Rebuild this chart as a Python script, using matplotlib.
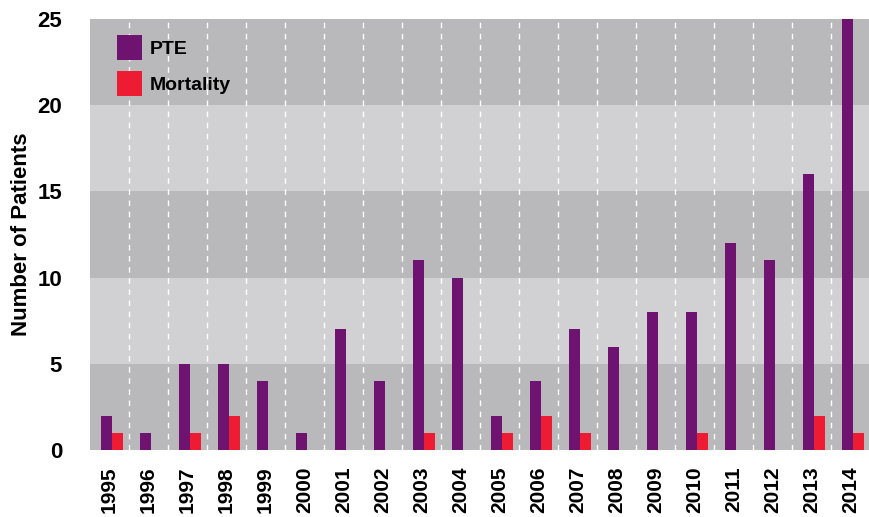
import matplotlib
matplotlib.use("Agg")
import matplotlib.pyplot as plt
import numpy as np

years = [str(y) for y in range(1995, 2015)]
pte = [2, 1, 5, 5, 4, 1, 7, 4, 11, 10, 2, 4, 7, 6, 8, 8, 12, 11, 16, 25]
mortality = [1, 0, 1, 2, 0, 0, 0, 0, 1, 0, 1, 2, 1, 0, 0, 1, 0, 0, 2, 1]

purple = "#6E1470"
red = "#EE1C33"
dark_band = "#B9B9BB"
light_band = "#D1D1D3"

plt.rcParams['font.family'] = ['Liberation Sans', 'DejaVu Sans']

fig = plt.figure(figsize=(8.7, 5.17), dpi=100)
ax = fig.add_axes([0.1034, 0.1296, 0.8966, 0.8337])

x = np.arange(len(years))

# alternating grey bands
for i, lo in enumerate(range(0, 25, 5)):
    ax.axhspan(lo, lo + 5, color=dark_band if i % 2 == 0 else light_band, zorder=0, lw=0)

# dashed white separators between years
for b in x[:-1] + 0.5:
    ax.axvline(b, color="white", lw=1, ls=(0, (4, 4)), zorder=1)

ax.bar(x - 0.22, pte, width=0.28, align="edge", color=purple, label="PTE", zorder=2)
ax.bar(x + 0.06, mortality, width=0.28, align="edge", color=red, label="Mortality", zorder=2)

ax.set_xlim(-0.5, len(years) - 0.5)
ax.set_ylim(0, 25)
ax.set_yticks(range(0, 26, 5))
ax.set_xticks(x)
ax.set_xticklabels(years, rotation=90, fontsize=15, fontweight="bold")
for t in ax.get_yticklabels():
    t.set_fontsize(16)
    t.set_fontweight("bold")
ax.tick_params(length=0)
ax.tick_params(axis="y", pad=20)
ax.tick_params(axis="x", pad=12)
for s in ax.spines.values():
    s.set_visible(False)

ax.set_ylabel("Number of Patients", fontsize=16, fontweight="bold", labelpad=4)

leg = ax.legend(loc="upper left", bbox_to_anchor=(0.025, 0.98), frameon=False,
                handlelength=1.25, handleheight=1.6, handletextpad=0.4,
                labelspacing=0.55, borderaxespad=0,
                prop={"size": 14, "weight": "bold"})

fig.savefig("out.png", dpi=100)
